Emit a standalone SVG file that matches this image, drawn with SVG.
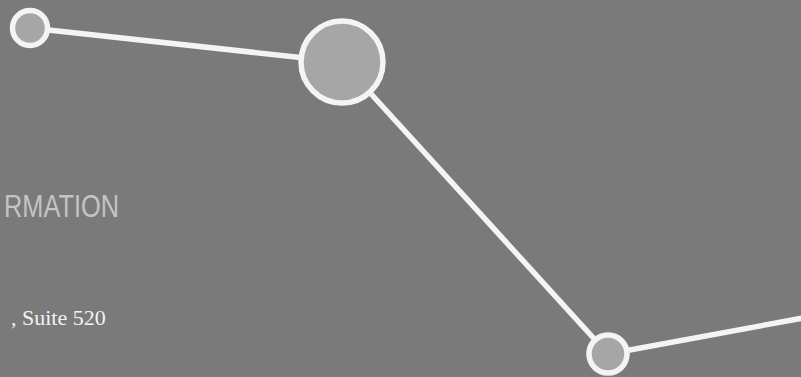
<svg xmlns="http://www.w3.org/2000/svg" width="801" height="377" viewBox="0 0 801 377">
  <style>
    .edge { stroke: #f4f4f4; stroke-width: 5.5; fill: none; stroke-linecap: round; }
    .node { fill: #a6a6a6; stroke: #f4f4f4; stroke-width: 5.5; }
    .title { font-family: "Liberation Sans Narrow", "Liberation Sans", sans-serif; font-size: 32px; fill: #c4c4c4; }
    .addr { font-family: "Liberation Serif", "DejaVu Serif", serif; font-size: 22px; fill: #f2f2f2; }
  </style>
  <rect width="801" height="377" fill="#7a7a7a"/>
  <g id="texts">
    <text class="title" x="4" y="217" textLength="115" lengthAdjust="spacingAndGlyphs">RMATION</text>
    <text class="addr" x="11" y="325">, Suite 520</text>
  </g>
  <g id="connectors">
    <line class="edge" x1="30" y1="28" x2="342" y2="62"/>
    <line class="edge" x1="342" y1="62" x2="608" y2="354"/>
    <line class="edge" x1="608" y1="354" x2="830" y2="313"/>
  </g>
  <g id="node-1"><circle class="node" cx="30" cy="28" r="17.5"/></g>
  <g id="node-2"><circle class="node" cx="342" cy="62" r="41"/></g>
  <g id="node-3"><circle class="node" cx="608" cy="354" r="19"/></g>
</svg>
